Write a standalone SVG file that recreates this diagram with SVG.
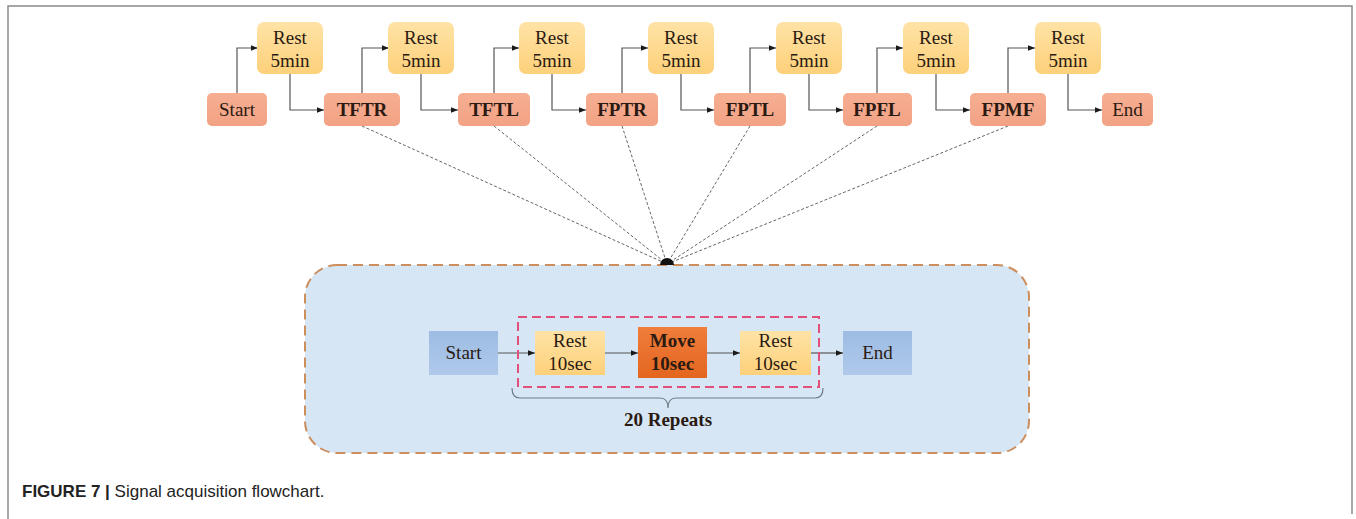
<svg xmlns="http://www.w3.org/2000/svg" width="1356" height="519" viewBox="0 0 1356 519">
<defs>
<linearGradient id="gRest" x1="0" y1="0" x2="0" y2="1"><stop offset="0" stop-color="#FFE3A6"/><stop offset="1" stop-color="#FDD07A"/></linearGradient>
<linearGradient id="gSal" x1="0" y1="0" x2="0" y2="1"><stop offset="0" stop-color="#F6AE92"/><stop offset="1" stop-color="#F2A284"/></linearGradient>
<linearGradient id="gBlue" x1="0" y1="0" x2="0" y2="1"><stop offset="0" stop-color="#9DBCE3"/><stop offset="1" stop-color="#AFC9EA"/></linearGradient>
<linearGradient id="gMove" x1="0" y1="0" x2="0" y2="1"><stop offset="0" stop-color="#F07D3C"/><stop offset="1" stop-color="#E3661F"/></linearGradient>
<marker id="ah" viewBox="0 0 10 10" refX="10" refY="5" markerWidth="7" markerHeight="7" markerUnits="userSpaceOnUse" orient="auto"><path d="M0,1 L10,5 L0,9 z" fill="#1a1a1a"/></marker>
</defs>
<style>
.t{font-family:"Liberation Serif","Times New Roman",serif;font-size:19px;fill:#2a1a12;text-anchor:middle}
.b{font-weight:bold}
.rest{fill:url(#gRest)}
.sal{fill:url(#gSal)}
.blue{fill:url(#gBlue)}
.con{fill:none;stroke:#555;stroke-width:1.2;marker-end:url(#ah)}
.dash{fill:none;stroke:#666;stroke-width:1;stroke-dasharray:3 2}
.frame{fill:none;stroke:#8a8a8a;stroke-width:1.5}
.cap{font-family:"Liberation Sans",Arial,sans-serif;font-size:17px;fill:#222}
</style>
<rect width="1356" height="519" fill="#fff"/>
<path class="frame" d="M8,519 V6 H1352 V514"/>

<g id="container">
<rect x="305" y="265" width="724" height="188" rx="32" fill="#D6E6F4" stroke="#CD8E5E" stroke-width="2" stroke-dasharray="10 6"/>
</g>

<g id="connectors">
<path class="con" d="M237,93 V48 H258"/>
<path class="con" d="M290,74 V110 H324"/>
<path class="con" d="M362,93 V48 H389"/>
<path class="con" d="M421,74 V110 H458"/>
<path class="con" d="M494,93 V48 H519"/>
<path class="con" d="M552,74 V110 H586"/>
<path class="con" d="M622,93 V48 H648"/>
<path class="con" d="M681,74 V110 H714"/>
<path class="con" d="M750,93 V48 H776"/>
<path class="con" d="M809,74 V110 H843"/>
<path class="con" d="M877,93 V48 H903"/>
<path class="con" d="M936,74 V110 H970"/>
<path class="con" d="M1008,93 V48 H1035"/>
<path class="con" d="M1068,74 V110 H1102"/>
<path class="dash" d="M362,126 L667,264"/>
<path class="dash" d="M494,126 L667,264"/>
<path class="dash" d="M622,126 L667,264"/>
<path class="dash" d="M750,126 L667,264"/>
<path class="dash" d="M877,126 L667,264"/>
<path class="dash" d="M1008,126 L667,264"/>
<path d="M660,265 A7,7 0 0 1 674,265 Z" fill="#111"/>
<path class="con" d="M498,353 H535"/>
<path class="con" d="M605,353 H638"/>
<path class="con" d="M707,353 H740"/>
<path class="con" d="M811,353 H843"/>
<path d="M512,388 Q512,398 520,398 H660 Q668,398 668,408 Q668,398 676,398 H815 Q823,398 823,388" fill="none" stroke="#6F7C88" stroke-width="1.2"/>
</g>

<g id="start"><rect class="sal" x="207" y="93" width="60" height="33" rx="5"/><text class="t" x="237" y="116">Start</text></g>
<g id="rest1"><rect class="rest" x="257" y="22" width="66" height="52" rx="7"/><text class="t" x="290" y="44">Rest</text><text class="t" x="290" y="67">5min</text></g>
<g id="tftr"><rect class="sal" x="324" y="93" width="76" height="33" rx="5"/><text class="t b" x="362" y="116">TFTR</text></g>
<g id="rest2"><rect class="rest" x="388" y="22" width="66" height="52" rx="7"/><text class="t" x="421" y="44">Rest</text><text class="t" x="421" y="67">5min</text></g>
<g id="tftl"><rect class="sal" x="458" y="93" width="72" height="33" rx="5"/><text class="t b" x="494" y="116">TFTL</text></g>
<g id="rest3"><rect class="rest" x="519" y="22" width="66" height="52" rx="7"/><text class="t" x="552" y="44">Rest</text><text class="t" x="552" y="67">5min</text></g>
<g id="fptr"><rect class="sal" x="586" y="93" width="72" height="33" rx="5"/><text class="t b" x="622" y="116">FPTR</text></g>
<g id="rest4"><rect class="rest" x="648" y="22" width="66" height="52" rx="7"/><text class="t" x="681" y="44">Rest</text><text class="t" x="681" y="67">5min</text></g>
<g id="fptl"><rect class="sal" x="714" y="93" width="72" height="33" rx="5"/><text class="t b" x="750" y="116">FPTL</text></g>
<g id="rest5"><rect class="rest" x="776" y="22" width="66" height="52" rx="7"/><text class="t" x="809" y="44">Rest</text><text class="t" x="809" y="67">5min</text></g>
<g id="fpfl"><rect class="sal" x="843" y="93" width="69" height="33" rx="5"/><text class="t b" x="877" y="116">FPFL</text></g>
<g id="rest6"><rect class="rest" x="903" y="22" width="66" height="52" rx="7"/><text class="t" x="936" y="44">Rest</text><text class="t" x="936" y="67">5min</text></g>
<g id="fpmf"><rect class="sal" x="970" y="93" width="76" height="33" rx="5"/><text class="t b" x="1008" y="116">FPMF</text></g>
<g id="rest7"><rect class="rest" x="1035" y="22" width="66" height="52" rx="7"/><text class="t" x="1068" y="44">Rest</text><text class="t" x="1068" y="67">5min</text></g>
<g id="end"><rect class="sal" x="1102" y="93" width="51" height="33" rx="5"/><text class="t" x="1127.5" y="116">End</text></g>

<g id="repeat-box"><rect x="518" y="317" width="301" height="70" fill="none" stroke="#E2507A" stroke-width="2" stroke-dasharray="9 5"/></g>
<g id="in-start"><rect class="blue" x="429" y="331" width="69" height="44"/><text class="t" x="463.5" y="359">Start</text></g>
<g id="in-rest1"><rect class="rest" x="535" y="331" width="70" height="44"/><text class="t" x="570" y="347">Rest</text><text class="t" x="570" y="370">10sec</text></g>
<g id="in-move"><rect fill="url(#gMove)" x="638" y="327" width="69" height="51"/><text class="t b" x="672.5" y="347">Move</text><text class="t b" x="672.5" y="370">10sec</text></g>
<g id="in-rest2"><rect class="rest" x="740" y="331" width="71" height="44"/><text class="t" x="775.5" y="347">Rest</text><text class="t" x="775.5" y="370">10sec</text></g>
<g id="in-end"><rect class="blue" x="843" y="331" width="69" height="44"/><text class="t" x="877.5" y="359">End</text></g>
<g id="repeats-label"><text class="t b" x="668" y="426">20 Repeats</text></g>

<g id="caption"><text class="cap" x="22" y="497"><tspan font-weight="bold">FIGURE 7 | </tspan>Signal acquisition flowchart.</text></g>
</svg>
